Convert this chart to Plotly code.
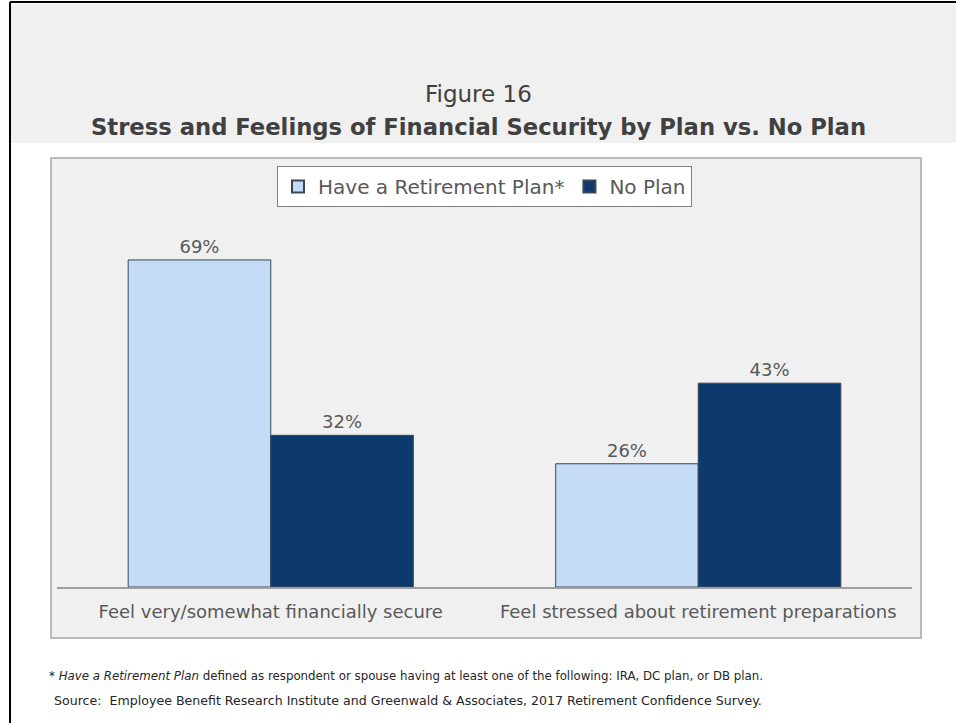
import plotly.graph_objects as go

categories = ["Feel very/somewhat financially secure", "Feel stressed about retirement preparations"]
series_names = ["Have a Retirement Plan*", "No Plan"]
have_plan = [69, 26]
no_plan = [32, 43]

FONT = "DejaVu Sans"
GREY_TXT = "#595959"

L, R, T, B = 57, 44, 200, 136
W, H = 956, 723
PW = W - L - R
PH = H - T - B


def px(x):
    return (x - L) / PW


def py(y):
    return (H - B - y) / PH


fig = go.Figure()
fig.add_trace(go.Bar(
    name=series_names[0], x=categories, y=have_plan,
    marker=dict(color="#C5DCF6", line=dict(color="#3a4655", width=1)),
    text=[f"{v}%" for v in have_plan], textposition="outside",
    textfont=dict(size=18, color=GREY_TXT, family=FONT), cliponaxis=False,
))
fig.add_trace(go.Bar(
    name=series_names[1], x=categories, y=no_plan,
    marker=dict(color="#0D3A6E", line=dict(color="#3a4655", width=1)),
    text=[f"{v}%" for v in no_plan], textposition="outside",
    textfont=dict(size=18, color=GREY_TXT, family=FONT), cliponaxis=False,
))

shapes = [
    # top grey band
    dict(type="rect", xref="paper", yref="paper", x0=px(11), x1=px(960), y0=py(143), y1=py(4),
         fillcolor="#F0F0F0", line=dict(width=0), layer="below"),
    # chart box
    dict(type="rect", xref="paper", yref="paper", x0=px(51), x1=px(921), y0=py(638), y1=py(158),
         fillcolor="#F0F0F0", line=dict(color="#A6A6A6", width=1.5), layer="below"),
    # black outer border
    dict(type="line", xref="paper", yref="paper", x0=px(10), x1=px(10), y0=py(2), y1=py(730),
         line=dict(color="#000000", width=2)),
    dict(type="line", xref="paper", yref="paper", x0=px(10), x1=px(970), y0=py(2), y1=py(2),
         line=dict(color="#000000", width=2)),
]

annotations = [
    dict(text="Figure 16", xref="paper", yref="paper", x=px(478), y=py(94), showarrow=False,
         font=dict(size=23, color="#404040", family=FONT), xanchor="center", yanchor="middle"),
    dict(text="<b>Stress and Feelings of Financial Security by Plan vs. No Plan</b>", xref="paper", yref="paper",
         x=px(478), y=py(127), showarrow=False,
         font=dict(size=22.7, color="#404040", family=FONT), xanchor="center", yanchor="middle"),
    dict(text="* <i>Have a Retirement Plan</i> defined as respondent or spouse having at least one of the following: IRA, DC plan, or DB plan.",
         xref="paper", yref="paper", x=px(47), y=py(676), showarrow=False,
         font=dict(size=11.8, color="#262626", family=FONT), xanchor="left", yanchor="middle"),
    dict(text="Source:  Employee Benefit Research Institute and Greenwald &amp; Associates, 2017 Retirement Confidence Survey.",
         xref="paper", yref="paper", x=px(52), y=py(700), showarrow=False,
         font=dict(size=12.6, color="#262626", family=FONT), xanchor="left", yanchor="middle"),
]

fig.update_layout(
    width=W, height=H,
    margin=dict(l=L, r=R, t=T, b=B),
    paper_bgcolor="white", plot_bgcolor="rgba(0,0,0,0)",
    barmode="group", bargap=0.333, bargroupgap=0,
    font=dict(family=FONT, color=GREY_TXT),
    showlegend=True,
    legend=dict(orientation="h", x=0.5, xanchor="center", y=py(166), yanchor="top",
                bgcolor="white", bordercolor="#808080", borderwidth=1,
                font=dict(size=20, color=GREY_TXT, family=FONT),
                itemsizing="constant", traceorder="normal", tracegroupgap=0),
    xaxis=dict(range=[-0.5, 1.5], showline=True, linecolor="#A0A0A0", linewidth=1.5,
               ticks="", ticklabelstandoff=8,
               tickfont=dict(size=18, color=GREY_TXT, family=FONT), showgrid=False,
               fixedrange=True),
    yaxis=dict(range=[0, PH / 4.74], visible=False, showgrid=False, zeroline=False, fixedrange=True),
    shapes=shapes,
    annotations=annotations,
)

fig.write_html("out.html", config={"displayModeBar": False},
               post_script="document.body.style.margin='0px';document.body.style.padding='0px';")
